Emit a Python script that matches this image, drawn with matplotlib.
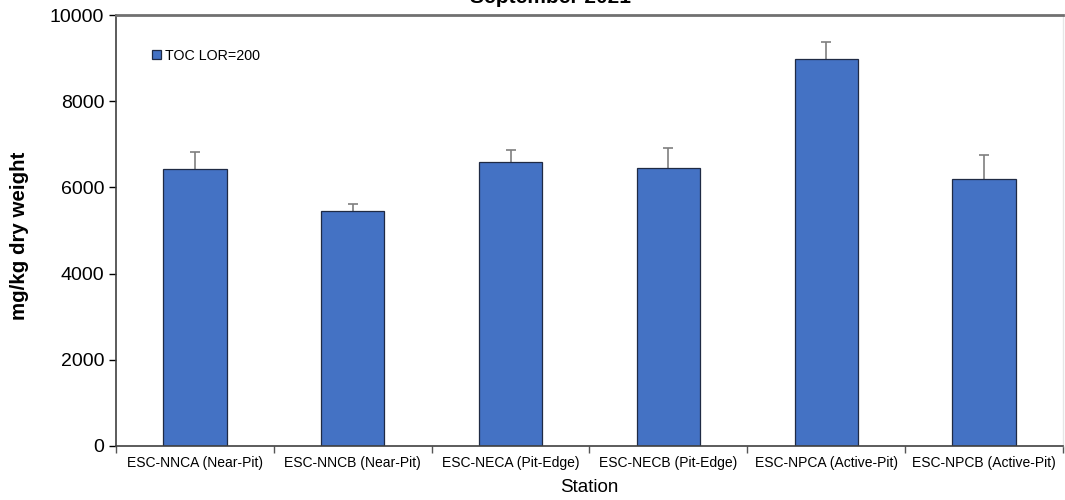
import matplotlib.pyplot as plt
import numpy as np

plt.rcParams["font.family"] = ["Liberation Sans", "DejaVu Sans"]

stations = [
    "ESC-NNCA (Near-Pit)", "ESC-NNCB (Near-Pit)", "ESC-NECA (Pit-Edge)",
    "ESC-NECB (Pit-Edge)", "ESC-NPCA (Active-Pit)", "ESC-NPCB (Active-Pit)",
]
toc_mean = [6420, 5450, 6600, 6450, 8980, 6200]
toc_err = [400, 170, 270, 475, 390, 550]
y_ticks = [0, 2000, 4000, 6000, 8000, 10000]

fig = plt.figure(figsize=(10.65, 5.0), dpi=100)
ax = fig.add_axes([0.109, 0.108, 0.889, 0.862])

x = np.arange(len(stations))
mean = np.array(toc_mean)
top = mean + np.array(toc_err)

# upper-only error bars, no cap at the bar top
ax.vlines(x, mean, top, color="#7F7F7F", linewidth=1.2, zorder=1)
ax.hlines(top, x - 0.032, x + 0.032, color="#7F7F7F", linewidth=1.2, zorder=1)
ax.bar(x, mean, width=0.4, color="#4472C4", edgecolor="#1F2A44",
       linewidth=0.9, label="TOC LOR=200", zorder=2)

ax.set_xlim(-0.5, len(stations) - 0.5)
ax.set_ylim(0, 10000)
ax.set_yticks(y_ticks)
ax.tick_params(axis="y", labelsize=14, length=5, direction="out", width=1)
ax.set_xticks(x)
ax.set_xticklabels(stations, fontsize=10)
ax.tick_params(axis="x", which="major", length=0, pad=7)
ax.set_xticks(np.arange(len(stations) + 1) - 0.5, minor=True)
ax.tick_params(axis="x", which="minor", length=5, width=1, color="#555555")

for side in ["left", "bottom"]:
    ax.spines[side].set_color("#404040")
    ax.spines[side].set_linewidth(1.2)
ax.spines["top"].set_color("#707070")
ax.spines["top"].set_linewidth(2)
ax.spines["right"].set_color("#E6E6E6")
ax.spines["right"].set_linewidth(1)

ax.set_ylabel("mg/kg dry weight", fontsize=14.8, fontweight="bold")
ax.yaxis.set_label_coords(-0.092, 0.487)
ax.set_xlabel("Station", fontsize=13.5, labelpad=7)

ax.legend(loc="upper left", bbox_to_anchor=(0.032, 0.935), frameon=False,
          fontsize=10.3, handlelength=0.6, handleheight=0.6, handletextpad=0.3,
          borderaxespad=0)

fig.text(0.517, 1 - 3 / 500, "September 2021", ha="center", va="baseline",
         fontsize=15, fontweight="bold")

fig.savefig("out.png", dpi=100)
plt.close(fig)
